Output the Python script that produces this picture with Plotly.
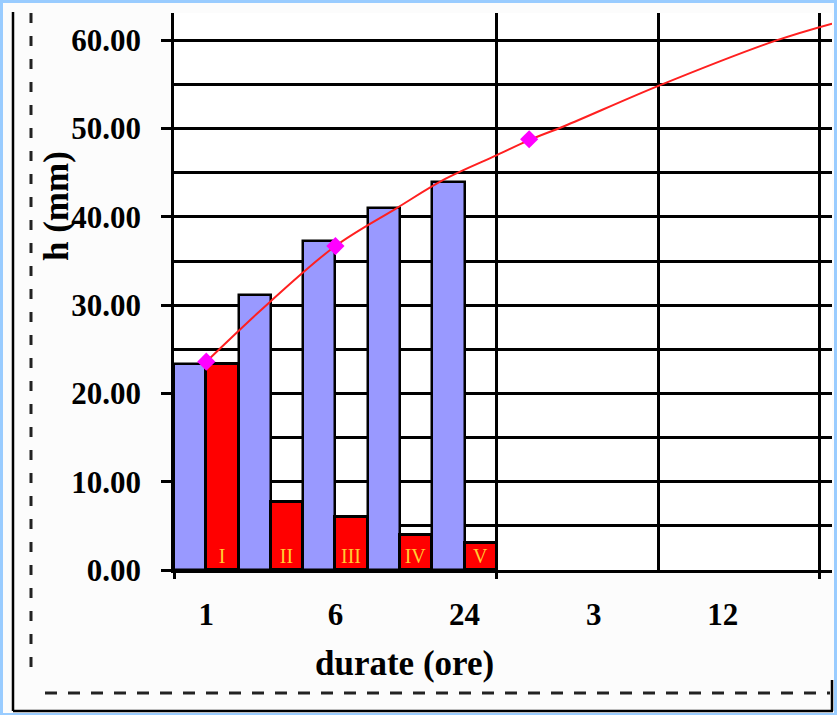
import numpy as np
import plotly.graph_objects as go

# Duration labels on the category axis
duration_labels = ["1", "6", "24", "3", "12"]
# Cumulative depth h (mm) for each interval
h_cumulative = [23.3, 31.2, 37.3, 41.0, 44.0]
# Incremental depth h (mm) for each interval
h_increment = [23.3, 7.7, 6.0, 4.0, 3.1]
interval_names = ["I", "II", "III", "IV", "V"]

# Depth-duration curve (position on the category scale, depth in mm)
curve_x = [0.0, 0.99, 2.0, 2.95, 3.7, 4.5, 5.0, 5.55, 7.02, 8.83, 9.69]
curve_h = [23.6, 30.4, 36.7, 41.0, 44.3, 47.0, 48.7, 50.3, 54.9, 60.0, 61.9]
# Observed points on the curve
point_x = [0, 2, 5]
point_h = [23.6, 36.7, 48.8]

W, H = 837, 715
ML, MR, MT, MB = 174, 5, 13, 145
PW, PH = W - ML - MR, H - MT - MB


def px_x(px):
    return (px - ML) / PW


def px_y(py):
    return (H - MB - py) / PH


groups = np.arange(len(h_cumulative))
x_range = [-0.5, 9.69]
serif = "Liberation Serif"
black = "#000000"
grid_w = 2.5

fig = go.Figure()
fig.add_trace(go.Bar(
    x=groups, y=h_cumulative,
    marker=dict(color="#9999FF", line=dict(color=black, width=2.5)),
    hoverinfo="y",
))
fig.add_trace(go.Bar(
    x=groups, y=h_increment,
    marker=dict(color="#FF0000", line=dict(color=black, width=3)),
    text=interval_names, textposition="inside", insidetextanchor="start",
    textangle=0, constraintext="none",
    textfont=dict(family=serif, size=20, color="#FFCC33"),
))
fig.add_trace(go.Scatter(
    x=curve_x, y=curve_h, xaxis="x2", yaxis="y",
    mode="lines", line=dict(color="#FF2020", width=2, shape="spline", smoothing=1.0),
))
fig.add_trace(go.Scatter(
    x=point_x, y=point_h, xaxis="x2", yaxis="y",
    mode="markers", marker=dict(symbol="diamond", size=14, color="#FF00FF"),
))

shapes = []
# outer light-blue frame
shapes.append(dict(type="rect", xref="paper", yref="paper",
                   x0=px_x(0), x1=px_x(W), y0=px_y(H + 1), y1=px_y(0),
                   line=dict(color="#99CCFF", width=6), layer="above"))
# solid frame lines
shapes.append(dict(type="line", xref="paper", yref="paper",
                   x0=px_x(13), x1=px_x(13), y0=px_y(12), y1=px_y(711),
                   line=dict(color=black, width=2.5)))
shapes.append(dict(type="line", xref="paper", yref="paper",
                   x0=px_x(13), x1=px_x(833), y0=px_y(711), y1=px_y(711),
                   line=dict(color=black, width=2.5)))
shapes.append(dict(type="line", xref="paper", yref="paper",
                   x0=px_x(832), x1=px_x(832), y0=px_y(680), y1=px_y(711),
                   line=dict(color=black, width=2.5)))
# dashed frame lines
shapes.append(dict(type="line", xref="paper", yref="paper",
                   x0=px_x(31), x1=px_x(31), y0=px_y(13), y1=px_y(680),
                   line=dict(color="#222222", width=3, dash="10px,13px")))
shapes.append(dict(type="line", xref="paper", yref="paper",
                   x0=px_x(45), x1=px_x(830), y0=px_y(693), y1=px_y(693),
                   line=dict(color="#222222", width=3, dash="12px,11px")))

annotations = [
    dict(text="durate (ore)", xref="paper", yref="paper",
         x=px_x(404), y=px_y(663), xanchor="center", yanchor="middle",
         showarrow=False, font=dict(family=serif, size=35, color=black, weight="bold")),
    dict(text="h (mm)", xref="paper", yref="paper",
         x=px_x(56), y=px_y(206), xanchor="center", yanchor="middle", textangle=-90,
         showarrow=False, font=dict(family=serif, size=35, color=black, weight="bold")),
]

tick_font = dict(family=serif, size=31, color=black, weight="bold")

fig.update_layout(
    width=W, height=H,
    margin=dict(l=ML, r=MR, t=MT, b=MB, pad=0),
    paper_bgcolor="#FCFCFC", plot_bgcolor="#FFFFFF",
    barmode="group", bargap=0, bargroupgap=0,
    showlegend=False,
    xaxis=dict(
        range=x_range, tickmode="array", tickvals=groups * 2, ticktext=duration_labels,
        showgrid=False, zeroline=False, ticks="", tickfont=tick_font,
        ticklabelstandoff=15,
        showline=True, linecolor=black, linewidth=grid_w,
    ),
    xaxis2=dict(
        overlaying="x", anchor="y", side="bottom", range=x_range,
        tickmode="linear", tick0=-0.5, dtick=5, showticklabels=False,
        ticks="outside", ticklen=8, tickwidth=grid_w, tickcolor=black,
        showgrid=True, gridcolor=black, gridwidth=grid_w, zeroline=False,
        minor=dict(tickmode="array", tickvals=[7.0], showgrid=True,
                   gridcolor=black, gridwidth=grid_w, ticks=""),
    ),
    yaxis=dict(
        range=[0, 63.1], tickmode="linear", tick0=0, dtick=10, tickformat=".2f",
        ticks="outside", ticklen=10, tickwidth=grid_w, tickcolor=black,
        showgrid=True, gridcolor=black, gridwidth=grid_w, zeroline=False,
        minor=dict(dtick=5, showgrid=True, gridcolor=black, gridwidth=grid_w, ticks=""),
        showline=True, linecolor=black, linewidth=grid_w,
        tickfont=tick_font, ticklabelstandoff=14,
    ),
    shapes=shapes,
    annotations=annotations,
)

fig.write_html("out.html")
